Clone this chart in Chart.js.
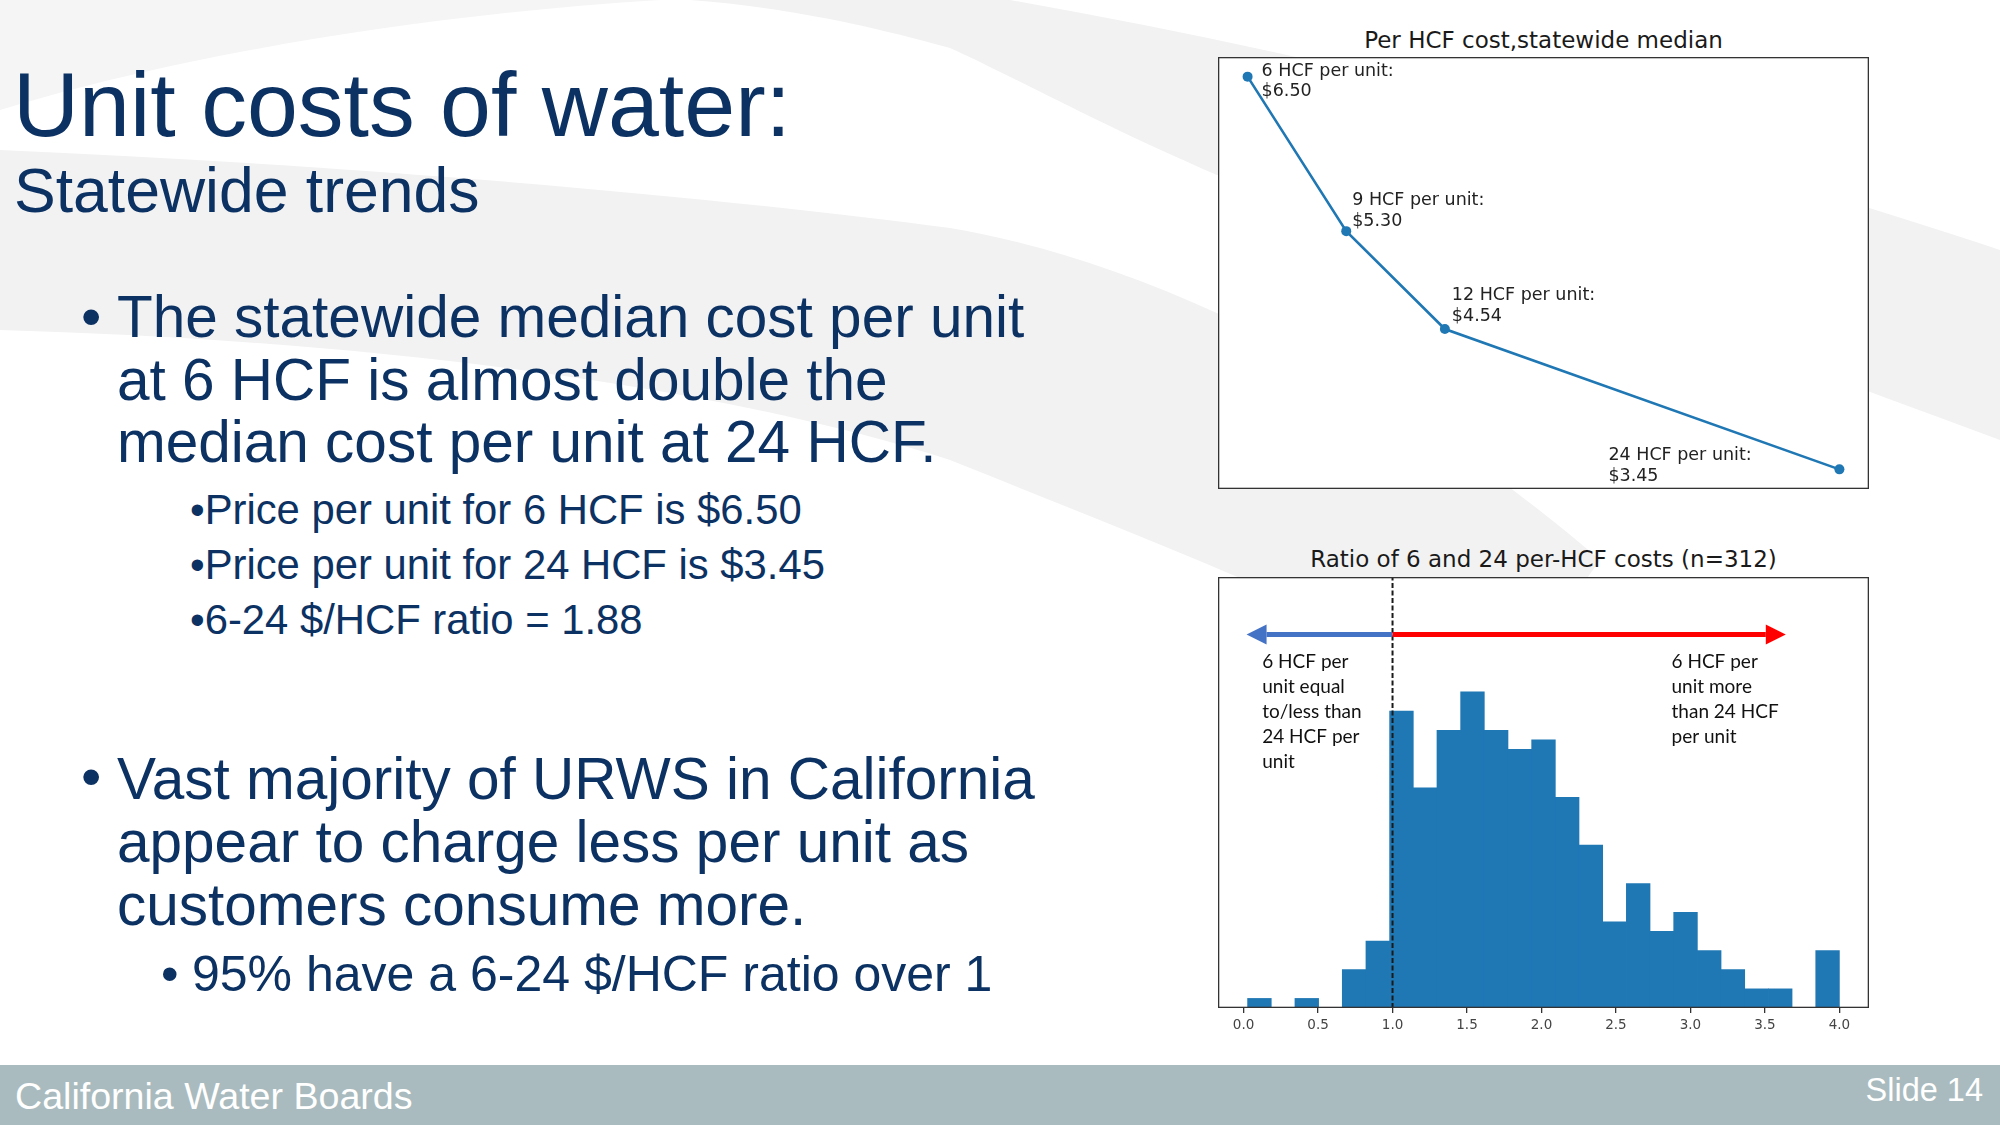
<!DOCTYPE html>
<html>
<head>
<meta charset="utf-8">
<title>Unit costs of water</title>
<script src="https://cdn.jsdelivr.net/npm/chart.js@4.4.1/dist/chart.umd.min.js"></script>
<style>
  html, body { margin: 0; padding: 0; }
  body {
    width: 2000px; height: 1125px; position: relative; overflow: hidden;
    background: #ffffff; font-family: "Liberation Sans", Arial, sans-serif; color: #0c3263;
  }
  .t { position: absolute; white-space: nowrap; line-height: 1; }
  .bg { position: absolute; left: 0; top: 0; }
  .footer { position: absolute; left: 0; top: 1065px; width: 2000px; height: 60px; background: #a9bbbe; }
  .ptitle {
    position: absolute; width: 651px; text-align: center; white-space: nowrap;
    font-family: "DejaVu Sans", sans-serif; font-size: 23px; line-height: 1; color: #1a1a1a;
  }
  canvas { position: absolute; }
</style>
</head>
<body>

<svg class="bg" width="2000" height="1125">
  <path d="M 0 0 L 660 0 C 420 15 180 55 0 110 Z" fill="#f5f5f6"/>
  <path d="M 690 0 L 1010 0 C 1350 60 1700 150 2000 250 L 2000 440 C 1700 330 1400 210 1217 175 C 1100 125 1000 70 950 48 C 850 20 770 6 690 0 Z" fill="#f2f2f3"/>
  <path d="M 0 150 C 350 165 700 195 950 228 C 1200 270 1450 430 1600 560 L 1500 700 C 1350 620 1200 560 950 460 C 700 380 350 340 0 330 Z" fill="#f2f2f3"/>
</svg>

<div class="t" style="left:13px; top:59px; font-size:91.5px;">Unit costs of water:</div>
<div class="t" style="left:14px; top:159px; font-size:62.5px;">Statewide trends</div>

<div class="t" style="left:81px; top:287px; font-size:58px;">•</div>
<div class="t" style="left:117px; top:286px; font-size:58.5px; line-height:62.5px;">The statewide median cost per unit<br>at 6 HCF is almost double the<br>median cost per unit at 24 HCF.</div>
<div class="t" style="left:190px; top:482px; font-size:41.8px; line-height:55px;">•Price per unit for 6 HCF is $6.50<br>•Price per unit for 24 HCF is $3.45<br>•6-24 $/HCF ratio = 1.88</div>

<div class="t" style="left:81px; top:747px; font-size:58px;">•</div>
<div class="t" style="left:117px; top:747px; font-size:58.5px; line-height:63px;">Vast majority of URWS in California<br>appear to charge less per unit as<br>customers consume more.</div>
<div class="t" style="left:161px; top:949px; font-size:50px;">•</div>
<div class="t" style="left:192px; top:949px; font-size:50px;">95% have a 6-24 $/HCF ratio over 1</div>

<div class="ptitle" style="left:1218px; top:29px;">Per HCF cost,statewide median</div>
<canvas id="costChart" width="651" height="432" style="left:1218px; top:57px;"></canvas>

<div class="ptitle" style="left:1218px; top:548px;">Ratio of 6 and 24 per-HCF costs (n=312)</div>
<canvas id="ratioChart" width="651" height="472" style="left:1218px; top:577px;"></canvas>

<div class="footer"></div>
<div class="t" style="left:15px; top:1078px; font-size:37.6px; color:#ffffff;">California Water Boards</div>
<div class="t" style="right:17px; top:1074px; font-size:32.5px; color:#ffffff;">Slide 14</div>

<script>
// per HCF cost, statewide median
const hcfLevels = [6, 9, 12, 24];
const medianCost = [6.50, 5.30, 4.54, 3.45];

// histogram of 6/24 per-HCF cost ratio
const binStart = 0.027;
const binEnd = 4.0;
const binCounts = [1, 0, 1, 0, 4, 7, 31, 23, 29, 33, 29, 27, 28, 22, 17, 9, 13, 8, 10, 6, 4, 2, 2, 0, 6];
const ratioTicks = [0.0, 0.5, 1.0, 1.5, 2.0, 2.5, 3.0, 3.5, 4.0];
const ratioLine = 1.0;
const ratioYMax = 45;

// arrows and notes in the histogram
const arrowY = 39;
const leftArrowTip = 0.02;
const rightArrowTip = 3.64;
const leftNote = ["6 HCF per", "unit equal", "to/less than", "24 HCF per", "unit"];
const rightNote = ["6 HCF per", "unit more", "than 24 HCF", "per unit"];
const noteY = 35.45;
const leftNoteX = 0.125;
const rightNoteX = 2.873;

const mplBlue = "#1f77b4";
const spineColor = "#333333";

// pixel offsets of the point labels (text left, first baseline)
const labelOffsets = [[14, -1], [6, -26], [7, -29], [-231, -9]];

function withMargin(values, frac) {
    let lo = Math.min(...values);
    let hi = Math.max(...values);
    let pad = (hi - lo) * frac;
    return [lo - pad, hi + pad];
}

// white axes face + dark frame, like the matplotlib figure
const boxPlugin = {
    id: "box",
    beforeDraw(chart) {
        const a = chart.chartArea;
        const ctx = chart.ctx;
        ctx.save();
        ctx.fillStyle = "#ffffff";
        ctx.fillRect(a.left, a.top, a.right - a.left, a.bottom - a.top);
        ctx.restore();
    },
    afterDraw(chart) {
        const a = chart.chartArea;
        const ctx = chart.ctx;
        ctx.save();
        ctx.strokeStyle = spineColor;
        ctx.lineWidth = 1.3;
        ctx.strokeRect(a.left + 0.65, a.top + 0.65, a.right - a.left - 1.3, a.bottom - a.top - 1.3);
        ctx.restore();
    }
};

function renderCostChart() {
    const [xMin, xMax] = withMargin(hcfLevels, 0.05);
    const [yMin, yMax] = withMargin(medianCost, 0.05);

    const pointLabels = {
        id: "pointLabels",
        afterDatasetsDraw(chart) {
            const ctx = chart.ctx;
            const xs = chart.scales.x;
            const ys = chart.scales.y;
            ctx.save();
            ctx.font = '17.5px "DejaVu Sans"';
            ctx.fillStyle = "#222222";
            ctx.textBaseline = "alphabetic";
            for (let i = 0; i < hcfLevels.length; i++) {
                let px = xs.getPixelForValue(hcfLevels[i]) + labelOffsets[i][0];
                let py = ys.getPixelForValue(medianCost[i]) + labelOffsets[i][1];
                ctx.fillText(hcfLevels[i] + " HCF per unit:", px, py);
                ctx.fillText("$" + medianCost[i].toFixed(2), px, py + 20.7);
            }
            ctx.restore();
        }
    };

    new Chart(document.getElementById("costChart"), {
        type: "line",
        data: {
            datasets: [{
                data: hcfLevels.map((h, i) => ({ x: h, y: medianCost[i] })),
                borderColor: mplBlue,
                backgroundColor: mplBlue,
                borderWidth: 2.6,
                pointRadius: 5,
                pointBorderWidth: 0,
                tension: 0
            }]
        },
        options: {
            responsive: false,
            animation: false,
            layout: { padding: 0, autoPadding: false },
            scales: {
                x: { type: "linear", min: xMin, max: xMax, display: false },
                y: { type: "linear", min: yMin, max: yMax, display: false }
            },
            plugins: { legend: { display: false }, tooltip: { enabled: false } }
        },
        plugins: [boxPlugin, pointLabels]
    });
}

function drawArrow(ctx, x0, x1, y, color) {
    const head = 20;
    const half = 10;
    const dir = Math.sign(x1 - x0);
    ctx.strokeStyle = color;
    ctx.fillStyle = color;
    ctx.lineWidth = 5;
    ctx.beginPath();
    ctx.moveTo(x0, y);
    ctx.lineTo(x1 - dir * head, y);
    ctx.stroke();
    ctx.beginPath();
    ctx.moveTo(x1, y);
    ctx.lineTo(x1 - dir * head, y - half);
    ctx.lineTo(x1 - dir * head, y + half);
    ctx.closePath();
    ctx.fill();
}

function renderRatioChart() {
    const binWidth = (binEnd - binStart) / binCounts.length;
    const bars = binCounts.map((c, i) => ({ x: binStart + (i + 0.5) * binWidth, y: c }));
    const [xMin, xMax] = withMargin([binStart, binEnd], 0.05);

    const notes = {
        id: "notes",
        afterDatasetsDraw(chart) {
            const ctx = chart.ctx;
            const xs = chart.scales.x;
            const ys = chart.scales.y;
            ctx.save();
            let ay = ys.getPixelForValue(arrowY);
            let x1 = xs.getPixelForValue(ratioLine);
            drawArrow(ctx, x1, xs.getPixelForValue(leftArrowTip), ay, "#4472c4");
            drawArrow(ctx, x1, xs.getPixelForValue(rightArrowTip), ay, "#ff0000");

            ctx.font = '19px Lato';
            ctx.fillStyle = "#111111";
            ctx.textBaseline = "alphabetic";
            let ny = ys.getPixelForValue(noteY);
            for (let i = 0; i < leftNote.length; i++) {
                ctx.fillText(leftNote[i], xs.getPixelForValue(leftNoteX), ny + i * 25);
            }
            for (let i = 0; i < rightNote.length; i++) {
                ctx.fillText(rightNote[i], xs.getPixelForValue(rightNoteX), ny + i * 25);
            }
            ctx.restore();
        }
    };

    new Chart(document.getElementById("ratioChart"), {
        type: "bar",
        data: {
            datasets: [{
                type: "line",
                data: [{ x: ratioLine, y: 0 }, { x: ratioLine, y: ratioYMax }],
                borderColor: "#1a1a1a",
                borderWidth: 2,
                borderDash: [5, 2.5],
                pointRadius: 0,
                order: 0
            }, {
                type: "bar",
                data: bars,
                backgroundColor: mplBlue,
                borderWidth: 0,
                barPercentage: 1.0,
                categoryPercentage: 1.0,
                order: 1
            }]
        },
        options: {
            responsive: false,
            animation: false,
            layout: { padding: 0, autoPadding: false },
            scales: {
                x: {
                    type: "linear",
                    min: xMin,
                    max: xMax,
                    offset: false,
                    afterBuildTicks: axis => { axis.ticks = ratioTicks.map(v => ({ value: v })); },
                    afterFit: axis => { axis.height = 41; },
                    grid: { display: true, drawOnChartArea: false, drawTicks: true, tickLength: 5, color: spineColor, lineWidth: 1.3, offset: false },
                    border: { display: false },
                    ticks: {
                        color: "#444444",
                        font: { family: "DejaVu Sans", size: 13.5 },
                        padding: 4,
                        maxRotation: 0,
                        autoSkip: false,
                        callback: v => Number(v).toFixed(1)
                    }
                },
                y: { type: "linear", min: 0, max: ratioYMax, display: false }
            },
            plugins: { legend: { display: false }, tooltip: { enabled: false } }
        },
        plugins: [boxPlugin, notes]
    });
}

renderCostChart();
renderRatioChart();
</script>
</body>
</html>
